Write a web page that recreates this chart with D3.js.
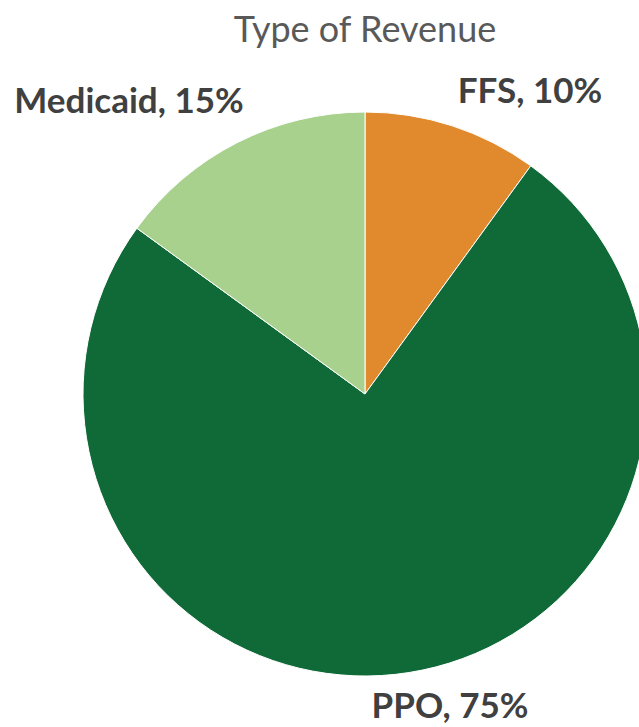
<!DOCTYPE html>
<html>
<head>
<meta charset="utf-8">
<script src="https://cdn.jsdelivr.net/npm/d3@7"></script>
<style>
  body { margin: 0; background: #fff; }
  svg { display: block; }
</style>
</head>
<body>
<div id="chart"></div>
<script>
const categories = ['FFS', 'PPO', 'Medicaid'];
const shares = [10, 75, 15];
const colors = ['#E08A2D', '#106A38', '#A9D18E'];
const title = 'Type of Revenue';

const width = 639;
const height = 727;
const cx = 365;
const cy = 394;
const radius = 282;

const data = categories.map((c, i) => ({ name: c, value: shares[i], color: colors[i] }));

const svg = d3.select('#chart')
.append('svg')
.attr('width', width)
.attr('height', height);

svg.append('text')
.attr('x', cx)
.attr('y', 42)
.attr('text-anchor', 'middle')
.attr('font-family', 'Lato, sans-serif')
.attr('font-size', 36)
.attr('fill', '#595959')
.text(title);

const pie = d3.pie()
.sort(null)
.value(d => d.value);

const arc = d3.arc()
.innerRadius(0)
.outerRadius(radius);

const g = svg.append('g')
.attr('transform', `translate(${cx}, ${cy})`);

g.selectAll('path')
.data(pie(data))
.enter()
.append('path')
.attr('d', arc)
.attr('fill', d => d.data.color)
.attr('stroke', '#fff')
.attr('stroke-width', 1);

// label spots, placed by hand like the original
const labelPos = {
    FFS: [530, 103],
    PPO: [450, 718],
    Medicaid: [129, 113]
};

svg.selectAll('text.lbl')
.data(data)
.enter()
.append('text')
.attr('class', 'lbl')
.attr('x', d => labelPos[d.name][0])
.attr('y', d => labelPos[d.name][1])
.attr('text-anchor', 'middle')
.attr('font-family', 'Lato, sans-serif')
.attr('font-weight', 'bold')
.attr('font-size', 35)
.attr('fill', '#404040')
.text(d => `${d.name}, ${d.value}%`);
</script>
</body>
</html>
